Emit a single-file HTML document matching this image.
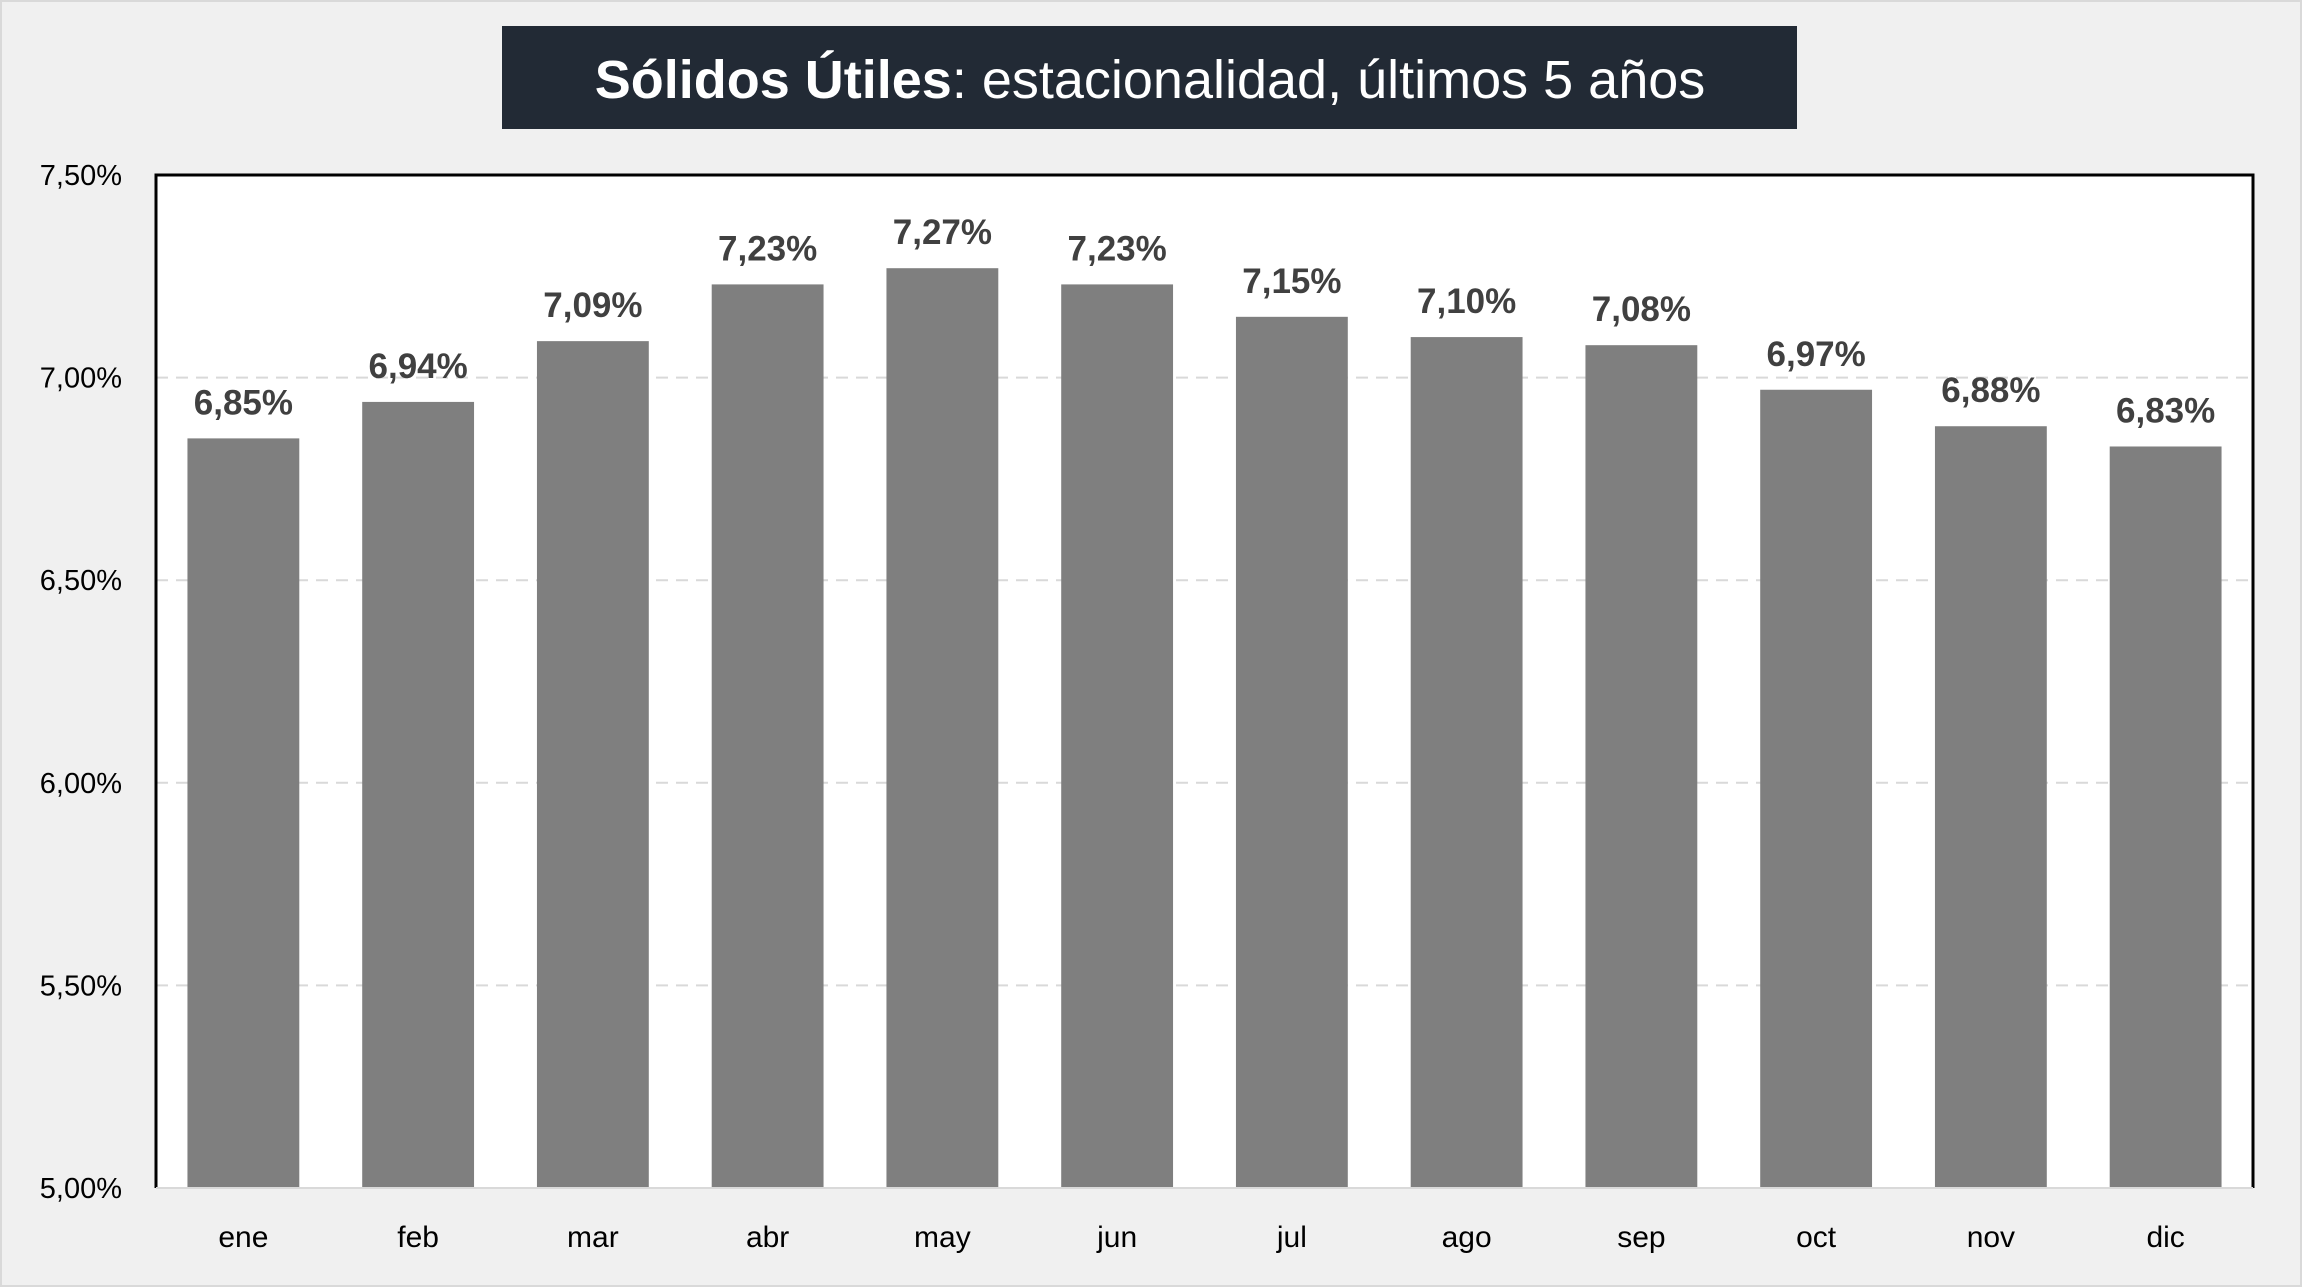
<!DOCTYPE html>
<html><head><meta charset="utf-8"><style>
html,body{margin:0;padding:0;background:#f0f0f0;}
svg{display:block;font-family:"Liberation Sans",sans-serif;}
</style></head><body>
<svg id="chart" width="2302" height="1287" viewBox="0 0 2302 1287">
<rect x="1" y="1" width="2300" height="1285" fill="#f0f0f0" stroke="#d9d9d9" stroke-width="2"/>
<rect x="502" y="26" width="1295" height="103" fill="#222a35"/>
<text x="1150" y="98" text-anchor="middle" font-size="54" fill="#ffffff"><tspan font-weight="bold">Sólidos Útiles</tspan>: estacionalidad, últimos 5 años</text>
<rect x="156" y="175" width="2097" height="1013" fill="#ffffff"/>
<g id="grid"></g>
<g id="bars"></g>
<path d="M156 1188 L156 175 L2253 175 L2253 1188" fill="none" stroke="#000" stroke-width="3"/>
<line x1="156" y1="1188" x2="2253" y2="1188" stroke="#d9d9d9" stroke-width="2"/>
<g id="yticks"></g>
<g id="xticks"></g>
</svg>
<script>
const categories=["ene","feb","mar","abr","may","jun","jul","ago","sep","oct","nov","dic"];
const values=[6.85,6.94,7.09,7.23,7.27,7.23,7.15,7.10,7.08,6.97,6.88,6.83];
const valueLabels=["6,85%","6,94%","7,09%","7,23%","7,27%","7,23%","7,15%","7,10%","7,08%","6,97%","6,88%","6,83%"];
const yTicks=[5.0,5.5,6.0,6.5,7.0,7.5];
const yTickLabels=["5,00%","5,50%","6,00%","6,50%","7,00%","7,50%"];
const NS="http://www.w3.org/2000/svg";
const L=156,R=2253,T=175,B=1188,yMin=5.0,yMax=7.5;
function y(v){return B-(v-yMin)/(yMax-yMin)*(B-T);}
const step=(R-L)/categories.length;
function xc(i){return L+step*(i+0.5);}
function mk(tag,attrs,parent){const e=document.createElementNS(NS,tag);for(const k in attrs)e.setAttribute(k,attrs[k]);document.getElementById(parent).appendChild(e);return e;}
yTicks.forEach((t,i)=>{
  if(t>yMin&&t<yMax){
    const g=mk('line',{x1:L,x2:R,y1:y(t),y2:y(t),stroke:'#d9d9d9','stroke-width':2,'stroke-dasharray':'12,8'},'grid');
    
    
  }
  const tx=mk('text',{x:122,y:y(t)+10,'text-anchor':'end','font-size':29,fill:'#000'},'yticks');
  tx.textContent=yTickLabels[i];
  
  
});
const bw=step*0.64;
categories.forEach((c,i)=>{
  const r=mk('rect',{x:xc(i)-bw/2,y:y(values[i]),width:bw,height:B-y(values[i]),fill:'#7f7f7f'},'bars');
  
  
  const lb=mk('text',{x:xc(i),y:y(values[i])-24,'text-anchor':'middle','font-size':35,'font-weight':'bold',fill:'#404040'},'bars');
  lb.textContent=valueLabels[i];
  
  
  const xl=mk('text',{x:xc(i),y:1247,'text-anchor':'middle','font-size':30,fill:'#000'},'xticks');
  xl.textContent=c;
  
  
});
</script>
</body></html>
